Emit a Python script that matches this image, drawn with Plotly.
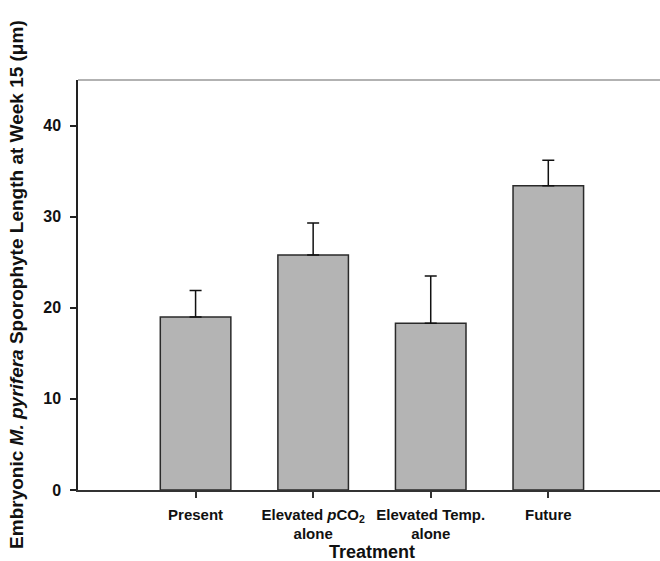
import plotly.graph_objects as go

categories = ["Present", "Elevated <i>p</i>CO<sub>2</sub><br>alone", "Elevated Temp.<br>alone", "Future"]
lengths = [19.0, 25.8, 18.3, 33.4]
errors = [2.9, 3.5, 5.2, 2.8]
ytick_vals = [0, 10, 20, 30, 40]

FONT = "Liberation Sans, Arial, sans-serif"

fig = go.Figure()
fig.add_trace(go.Bar(
    x=categories, y=lengths, width=0.6,
    marker=dict(color="#b4b4b4", line=dict(color="#2a2a2a", width=1.5)),
    error_y=dict(type="data", symmetric=False, array=errors, arrayminus=[0]*len(errors),
                 color="#111111", thickness=1.5, width=6),
))

fig.update_layout(
    width=660, height=561,
    margin=dict(l=78, r=0, t=80, b=71),
    paper_bgcolor="white", plot_bgcolor="white",
    showlegend=False,
    font=dict(family=FONT, color="#111111"),
    bargap=0.4,
)
fig.update_xaxes(
    type="category", range=[-1, 3.95],
    showline=True, linecolor="#333333", linewidth=1.5,
    ticks="outside", ticklen=6, tickcolor="#333333", tickwidth=1.5,
    ticklabelstandoff=4,
    tickfont=dict(size=15, family=FONT, weight="bold", color="#111111"),
    showgrid=False, zeroline=False,
)
fig.update_yaxes(
    range=[0, 45], tickvals=ytick_vals,
    showline=True, linecolor="#222222", linewidth=1.5,
    ticks="outside", ticklen=6, tickcolor="#222222", tickwidth=1.5,
    ticklabelstandoff=6,
    tickfont=dict(size=16, family=FONT, weight="bold", color="#111111"),
    showgrid=False, zeroline=False,
)
# top border line (gray)
fig.add_shape(type="line", xref="paper", yref="paper", x0=0, x1=1, y0=1, y1=1,
              line=dict(color="#999999", width=1.5))

fig.add_annotation(text="Treatment", xref="paper", yref="paper", x=0.505, y=-0.15,
                   xanchor="center", yanchor="middle", showarrow=False,
                   font=dict(size=18, family=FONT, weight="bold", color="#111111"))
fig.add_annotation(text="Embryonic <i>M. pyrifera</i> Sporophyte Length at Week 15 (μm)",
                   xref="paper", yref="paper", x=-0.107, y=0.502, textangle=-90,
                   xanchor="center", yanchor="middle", showarrow=False,
                   font=dict(size=19, family=FONT, weight="bold", color="#111111"))

fig.write_html("out.html")
